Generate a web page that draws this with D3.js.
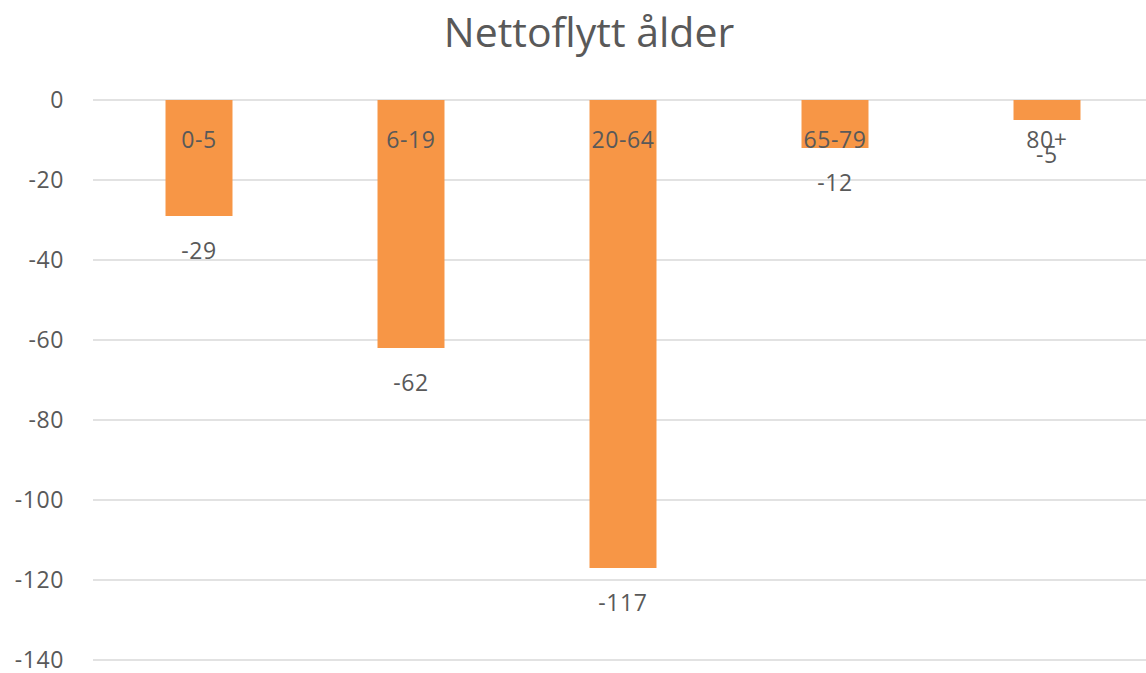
<!DOCTYPE html>
<html>
<head>
<meta charset="utf-8">
<script src="https://cdn.jsdelivr.net/npm/d3@7"></script>
<style>
  body { margin: 0; background: #fff; }
  text { font-family: "Open Sans", sans-serif; fill: #595959; }
  .lbl { font-size: 23px; letter-spacing: 0.6px; }
</style>
</head>
<body>
<script>
const categories = ['0-5', '6-19', '20-64', '65-79', '80+']
const values = [-29, -62, -117, -12, -5]
const yTicks = [0, -20, -40, -60, -80, -100, -120, -140]

const WIDTH = 1146
const HEIGHT = 673

const svg = d3.select(document.body).append('svg')
  .attr('width', WIDTH)
  .attr('height', HEIGHT)

const x = d3.scaleBand()
  .domain(categories)
  .range([93, 1153])
  .padding(0)

const y = d3.scaleLinear()
  .domain([-140, 0])
  .range([660, 100])

const barW = x.bandwidth() * 0.316

// title
svg.append('text')
  .attr('x', 589)
  .attr('y', 47)
  .attr('text-anchor', 'middle')
  .style('font-size', '41px')
  .text('Nettoflytt ålder')

// gridlines
svg.append('g').selectAll('line')
  .data(yTicks)
  .enter()
  .append('line')
  .attr('x1', 93)
  .attr('x2', WIDTH)
  .attr('y1', d => y(d))
  .attr('y2', d => y(d))
  .attr('stroke', '#d9d9d9')
  .attr('stroke-width', 1.5)

// y labels
svg.append('g').selectAll('text')
  .data(yTicks)
  .enter()
  .append('text')
  .attr('class', 'lbl')
  .attr('x', 64)
  .attr('y', d => y(d))
  .attr('dy', '0.35em')
  .attr('text-anchor', 'end')
  .text(d => d === 0 ? '0' : '-' + Math.abs(d))

// bars
svg.append('g').selectAll('rect')
  .data(values)
  .enter()
  .append('rect')
  .attr('x', (d, i) => x(categories[i]) + x.bandwidth() / 2 - barW / 2)
  .attr('y', y(0))
  .attr('width', barW)
  .attr('height', d => y(d) - y(0))
  .attr('fill', '#f79646')

// category labels
svg.append('g').selectAll('text')
  .data(categories)
  .enter()
  .append('text')
  .attr('class', 'lbl')
  .attr('x', d => x(d) + x.bandwidth() / 2)
  .attr('y', y(0) + 40)
  .attr('dy', '0.35em')
  .attr('text-anchor', 'middle')
  .text(d => d)

// value labels
svg.append('g').selectAll('text')
  .data(values)
  .enter()
  .append('text')
  .attr('class', 'lbl')
  .attr('x', (d, i) => x(categories[i]) + x.bandwidth() / 2)
  .attr('y', d => y(d) + 35)
  .attr('dy', '0.35em')
  .attr('text-anchor', 'middle')
  .text(d => '-' + Math.abs(d))
</script>
</body>
</html>
